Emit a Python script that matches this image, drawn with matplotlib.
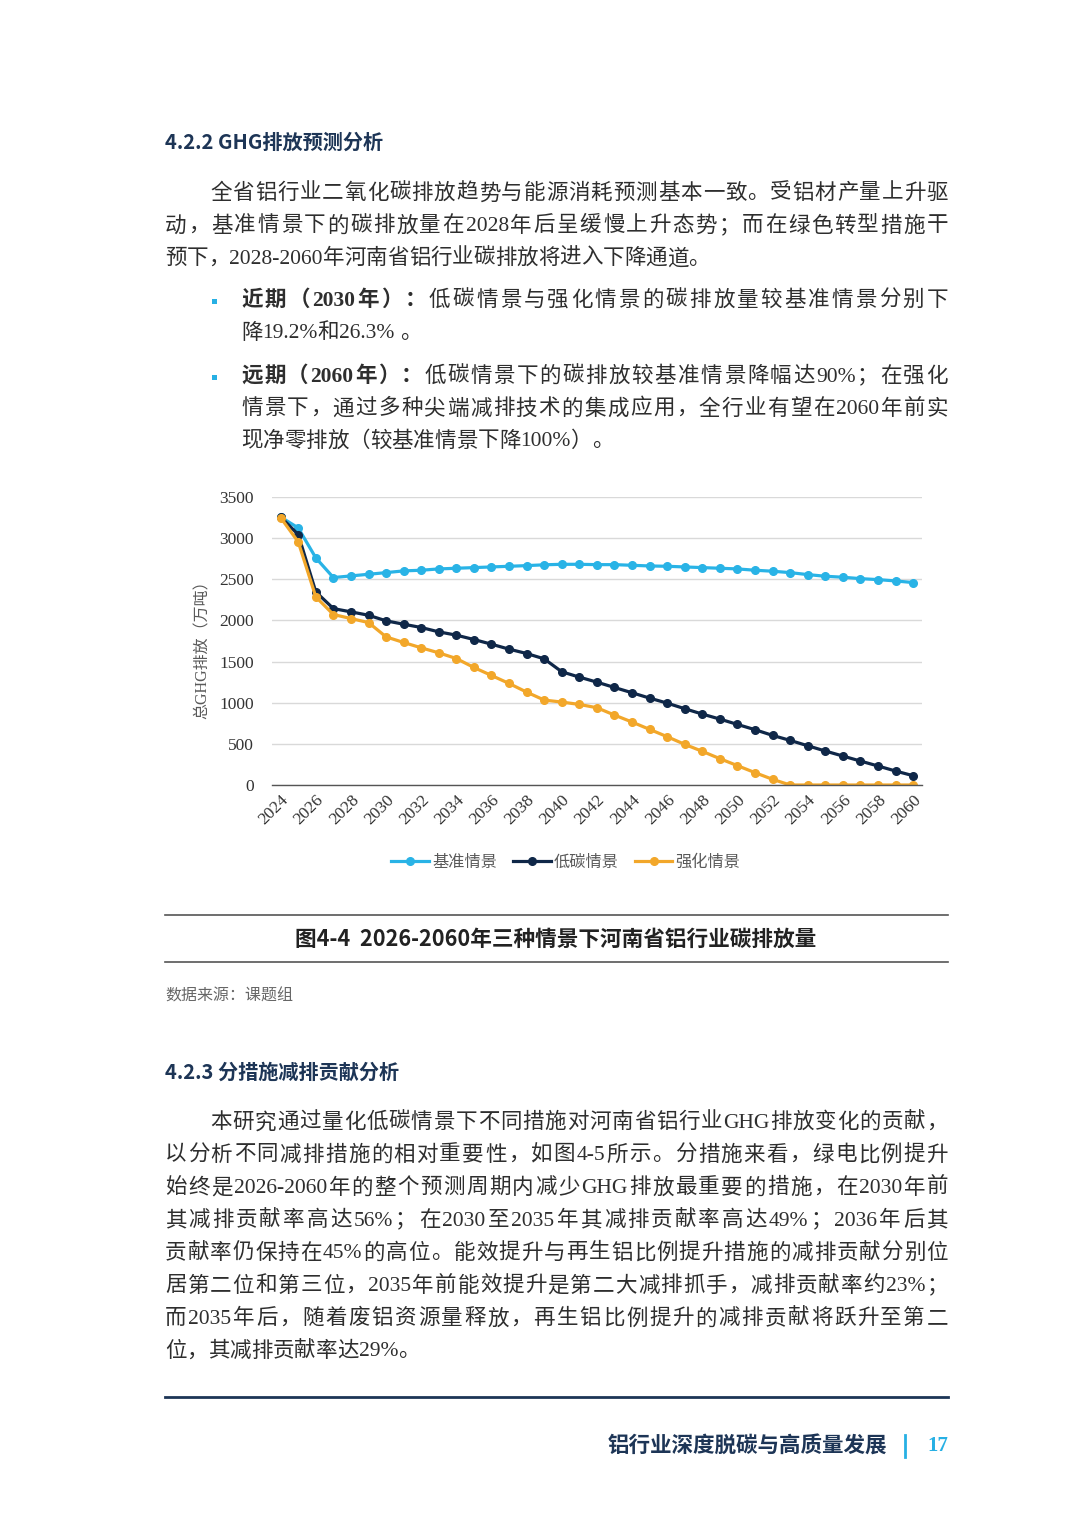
import matplotlib
matplotlib.use("Agg")
import matplotlib.pyplot as plt
from matplotlib.lines import Line2D
from matplotlib.patches import Rectangle

# ---- chart data ----
years = list(range(2024, 2061))
baseline = [3257, 3124, 2760, 2521, 2541, 2561, 2581, 2602, 2610, 2626, 2634, 2642,
            2650, 2658, 2666, 2676, 2682, 2682, 2678, 2678, 2670, 2662, 2658, 2650,
            2642, 2634, 2626, 2610, 2598, 2581, 2557, 2537, 2525, 2508, 2496, 2480, 2460]
low_carbon = [3257, 3043, 2347, 2144, 2104, 2063, 1995, 1954, 1914, 1861, 1821, 1768,
              1711, 1651, 1598, 1533, 1376, 1311, 1250, 1185, 1121, 1056, 995, 927,
              862, 801, 736, 672, 603, 542, 477, 413, 352, 291, 231, 170, 113]
enhanced = [3249, 2954, 2286, 2072, 2023, 1974, 1800, 1732, 1667, 1606, 1537, 1428,
            1331, 1234, 1129, 1032, 1008, 979, 939, 850, 765, 676, 587, 494,
            409, 320, 235, 150, 69, 0, 0, 0, 0, 0, 0, 0, 0]
series_names = ["基准情景", "低碳情景", "强化情景"]
y_ticks = [0, 500, 1000, 1500, 2000, 2500, 3000, 3500]
x_ticks = list(range(2024, 2061, 2))

# ---- page text ----
para1 = ["全省铝行业二氧化碳排放趋势与能源消耗预测基本一致。受铝材产量上升驱",
         "动，基准情景下的碳排放量在2028年后呈缓慢上升态势；而在绿色转型措施干",
         "预下，2028-2060年河南省铝行业碳排放将进入下降通道。"]
bullet1 = [("近期（2030年）：", "低碳情景与强化情景的碳排放量较基准情景分别下"),
           ("", "降19.2%和26.3% 。")]
bullet2 = [("远期（2060年）：", "低碳情景下的碳排放较基准情景降幅达90%；在强化"),
           ("", "情景下，通过多种尖端减排技术的集成应用，全行业有望在2060年前实"),
           ("", "现净零排放（较基准情景下降100%）。")]
para2 = ["本研究通过量化低碳情景下不同措施对河南省铝行业GHG排放变化的贡献，",
         "以分析不同减排措施的相对重要性，如图4-5所示。分措施来看，绿电比例提升",
         "始终是2026-2060年的整个预测周期内减少GHG排放最重要的措施，在2030年前",
         "其减排贡献率高达56%；在2030至2035年其减排贡献率高达49%；2036年后其",
         "贡献率仍保持在45%的高位。能效提升与再生铝比例提升措施的减排贡献分别位",
         "居第二位和第三位，2035年前能效提升是第二大减排抓手，减排贡献率约23%；",
         "而2035年后，随着废铝资源量释放，再生铝比例提升的减排贡献将跃升至第二",
         "位，其减排贡献率达29%。"]

W, H = 1080, 1527
NAVY = "#1d3556"
TXT = "#2e2e2e"
GREY = "#595959"
CYAN = "#27b0e4"
C_BASE, C_LOW, C_ENH = "#29b3e6", "#0f2748", "#f2a72a"
MIX = ["Liberation Serif", "Noto Sans CJK SC"]
SANS = ["Noto Sans CJK SC", "DejaVu Sans"]
BODY = 15.5

fig = plt.figure(figsize=(W / 100, H / 100), dpi=100)
renderer = fig.canvas.get_renderer()


def fy(y):
    return 1 - y / H


def chunks(segs):
    out = []
    for s, wt in segs:
        buf = ""
        for ch in s:
            if ord(ch) < 128:
                buf += ch
            else:
                if buf:
                    out.append((buf, wt))
                    buf = ""
                out.append((ch, wt))
        if buf:
            out.append((buf, wt))
    return out


def text_line(segs, x0, x1, y, justify=True, size=BODY, color=TXT):
    parts = chunks(segs)
    objs = [fig.text(0, fy(y), p, fontsize=size, family=MIX, weight=wt,
                     color=color, va="center", ha="left") for p, wt in parts]
    widths = [o.get_window_extent(renderer).width for o in objs]
    gap = 0.0
    if justify and len(parts) > 1:
        gap = (x1 - x0 - sum(widths)) / (len(parts) - 1)
    x = x0
    for o, w in zip(objs, widths):
        o.set_x(x / W)
        x += w + gap


def hrule(y, x0=165, x1=948, color="#555555", lw=1.2):
    fig.add_artist(Line2D([x0 / W, x1 / W], [fy(y), fy(y)], transform=fig.transFigure,
                          color=color, lw=lw))


LEFT, RIGHT = 165, 948

# heading 4.2.2
fig.text(LEFT / W, fy(142), "4.2.2 GHG排放预测分析", fontsize=14.5, family=SANS,
         weight="bold", color=NAVY, va="center")

# paragraph 1
for i, s in enumerate(para1):
    x0 = 210 if i == 0 else LEFT
    text_line([(s, "normal")], x0, RIGHT, 194 + i * 32.5, justify=i < len(para1) - 1)

# bullets
for block, y0 in ((bullet1, 301), (bullet2, 377)):
    fig.add_artist(Rectangle((212 / W, fy(y0 + 3)), 5 / W, 5 / H,
                             transform=fig.transFigure, color=CYAN, lw=0))
    for i, (b, s) in enumerate(block):
        segs = [(b, "bold"), (s, "normal")] if b else [(s, "normal")]
        text_line(segs, 241, RIGHT, y0 + i * 32.5, justify=i < len(block) - 1)

# ---- the chart ----
ax = fig.add_axes([271.9 / W, fy(785), 650 / W, 288 / H])
ax.plot(years, baseline, color=C_BASE, lw=2.3, marker="o", ms=5.5, label=series_names[0])
ax.plot(years, low_carbon, color=C_LOW, lw=2.3, marker="o", ms=5.5, label=series_names[1])
ax.plot(years, enhanced, color=C_ENH, lw=2.3, marker="o", ms=5.5, label=series_names[2])
ax.set_xlim(2023.5, 2060.5)
ax.set_ylim(0, 3500)
ax.set_yticks(y_ticks)
ax.set_xticks(x_ticks)
ax.set_yticklabels([str(v) for v in y_ticks], family=MIX, fontsize=12.5, color="#333333")
ax.set_xticklabels([str(v) for v in x_ticks], family=MIX, fontsize=12.5, color="#333333",
                   rotation=45, ha="right", va="top", rotation_mode="anchor")
ax.tick_params(length=0, axis="y", pad=13)
ax.tick_params(length=0, axis="x", pad=5)
ax.grid(axis="y", color="#d9d9d9", lw=1)
ax.set_axisbelow(True)
for side in ("left", "right", "top"):
    ax.spines[side].set_visible(False)
ax.spines["bottom"].set_color("#555555")
ax.spines["bottom"].set_linewidth(1)

fig.text(203 / W, fy(646), "总GHG排放（万吨）", rotation=90, family=MIX, fontsize=11.5,
         color=GREY, ha="center", va="center")

handles, labels = ax.get_legend_handles_labels()
leg = fig.legend(handles, labels, loc="center", bbox_to_anchor=(566 / W, fy(862)),
                 ncol=3, frameon=False, handlelength=2.3, handletextpad=0.2,
                 columnspacing=1.0, prop={"family": SANS, "size": 11.7})
for t in leg.get_texts():
    t.set_color(GREY)

# caption
hrule(915)
fig.text(556 / W, fy(939), "图4-4  2026-2060年三种情景下河南省铝行业碳排放量", fontsize=15.6,
         family=SANS, weight="bold", color="#222222", ha="center", va="center")
hrule(962)
fig.text(LEFT / W, fy(996), "数据来源：课题组", fontsize=11.5, family=SANS,
         color="#666666", va="center")

# heading 4.2.3
fig.text(LEFT / W, fy(1072), "4.2.3 分措施减排贡献分析", fontsize=14.5, family=SANS,
         weight="bold", color=NAVY, va="center")

for i, s in enumerate(para2):
    x0 = 210 if i == 0 else LEFT
    text_line([(s, "normal")], x0, RIGHT, 1123 + i * 32.7, justify=i < len(para2) - 1)

# footer
hrule(1397, color=NAVY, lw=2)
fig.text(887 / W, fy(1446), "铝行业深度脱碳与高质量发展", fontsize=15.5, family=SANS,
         weight="bold", color=NAVY, ha="right", va="center")
fig.add_artist(Line2D([905 / W, 905 / W], [fy(1435), fy(1457)], transform=fig.transFigure,
                      color=CYAN, lw=2))
fig.text(948 / W, fy(1446), "17", fontsize=15, family=MIX, weight="bold",
         color=CYAN, ha="right", va="center")

fig.savefig("out.png", dpi=100, facecolor="white")
